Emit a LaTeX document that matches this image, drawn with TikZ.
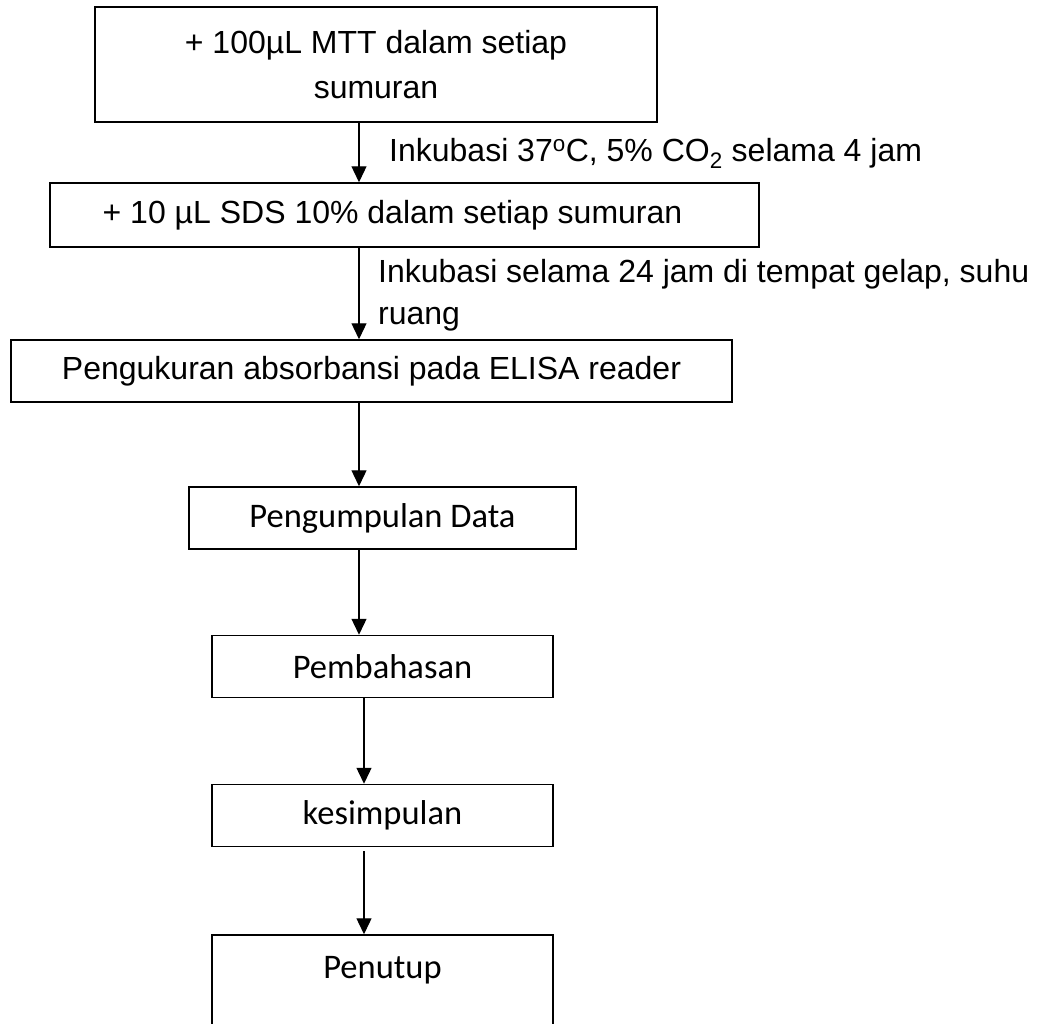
\documentclass[tikz,border=0pt]{standalone}
\usepackage{fontspec}
\setmainfont{Liberation Sans}
\newfontfamily\calibri{Carlito}
\usetikzlibrary{arrows.meta}

\begin{document}
\begin{tikzpicture}[x=1pt,y=-1pt,
    box/.style={draw,line width=1.5pt,inner sep=0pt,align=center,font=\fontsize{32}{45}\selectfont},
    cbox/.style={box,font=\calibri\fontsize{34.5}{40}\selectfont},
    flow/.style={line width=1.3pt,-{Triangle[width=15pt,length=16pt]}},
    lbl/.style={inner sep=0pt,align=left,font=\fontsize{32}{42}\selectfont}]
  \path[fill=white] (0,0) rectangle (1048,1023);
  \clip (0,0) rectangle (1048,1023);
  % langkah uji MTT
  \node[box,minimum width=562pt,minimum height=115pt] (mtt) at (376,64.5) {+ 100µL MTT dalam setiap\\sumuran};
  \node[box,minimum width=709pt,minimum height=64pt] (sds) at (404.5,215) {+ 10 µL SDS 10\% dalam setiap sumuran\hspace*{24pt}};
  \node[box,minimum width=721pt,minimum height=62pt] (elisa) at (371.5,371) {Pengukuran absorbansi pada ELISA reader};
  \node[cbox,minimum width=387pt,minimum height=62pt] (data) at (382.5,518) {Pengumpulan Data};
  \node[cbox,minimum width=341pt,minimum height=62pt] (bahas) at (382.5,666.5) {Pembahasan};
  \node[cbox,minimum width=341pt,minimum height=62pt] (simpul) at (382.5,815.5) {kesimpulan};
  \node[cbox,minimum width=341pt,minimum height=100pt,text height=24pt,text depth=38pt] (tutup) at (382.5,985) {Penutup};
  % panah
  \coordinate (colA) at (359,0);
  \coordinate (colB) at (364,0);
  \foreach \a/\b in {mtt/sds,sds/elisa,elisa/data,data/bahas}
    \draw[flow] (\a.south -| colA) -- (\b.north -| colA);
  \draw[flow] (bahas.south -| colB) -- (simpul.north -| colB);
  \draw[flow,shorten <=4pt] (simpul.south -| colB) -- (tutup.north -| colB);
  % keterangan inkubasi
  \node[lbl,anchor=base west] (inkA) at (389,161) {Inkubasi 37\textsuperscript{o}C, 5\% CO\textsubscript{2} selama 4 jam};
  \node[lbl,anchor=north west] (inkB) at (378,259) {Inkubasi selama 24 jam di tempat gelap, suhu\\ruang};
\end{tikzpicture}
\end{document}
